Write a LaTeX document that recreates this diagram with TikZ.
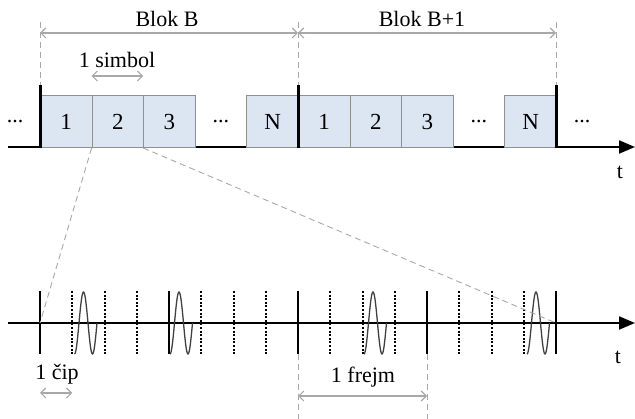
\documentclass[tikz,border=0pt]{standalone}
\usepackage{fontspec}
\setmainfont{Liberation Serif}
\usetikzlibrary{arrows.meta}
\definecolor{boxfill}{HTML}{DCE6F2}
\definecolor{boxline}{HTML}{909090}
\definecolor{dimgray}{HTML}{A8A8A8}
\definecolor{wavegray}{HTML}{404040}

\begin{document}
\begin{tikzpicture}[x=1pt,y=-1pt,
  lbl/.style={font=\fontsize{22}{22}\selectfont, inner sep=0pt},
  slot/.style={draw=boxline, fill=boxfill, line width=0.8pt,
    minimum width=51.6pt, minimum height=52pt, inner sep=0pt,
    anchor=south west, font=\fontsize{23}{23}\selectfont},
  gap/.style={minimum width=51.6pt, minimum height=52pt, inner sep=0pt,
    anchor=south west, font=\fontsize{22}{22}\selectfont},
  timeaxis/.style={line width=2pt, -{Triangle[length=16pt,width=13pt]}},
  blockbar/.style={line width=3pt},
  framebar/.style={line width=1.6pt},
  chipbar/.style={line width=2pt, dash pattern=on 2pt off 1.6pt},
  dim/.style={draw=dimgray, line width=1.1pt,
    {Straight Barb[length=5pt,width=10pt]}-{Straight Barb[length=5pt,width=10pt]}},
  guide/.style={draw=dimgray, line width=0.9pt, dash pattern=on 6pt off 4pt},
  pulse/.style={draw=wavegray, line width=1.3pt}]
\useasboundingbox (0,0) rectangle (635,419);

% ---------------- symbol level ----------------
\coordinate (ta0) at (8,147);
\coordinate (ta1) at (635,147);
\draw[timeaxis] (ta0) -- (ta1);
\node[lbl] (tt) at (620,172) {t};

% block B
\node[slot] (s1) at (40,148) {1};
\node[slot] (s2) at (91.6,148) {2};
\node[slot] (s3) at (143.2,148) {3};
\node[gap]  (sd) at (194.8,148) {...};
\node[slot] (sN) at (246.4,148) {N};
% block B+1
\node[slot] (u1) at (298,148) {1};
\node[slot] (u2) at (349.6,148) {2};
\node[slot] (u3) at (401.2,148) {3};
\node[gap]  (ud) at (452.8,148) {...};
\node[slot] (uN) at (504.4,148) {N};

\node[lbl] (dl) at (15,122) {...};
\node[lbl] (dr) at (582,122) {...};

% block boundaries
\foreach \x/\n in {40/A,298/B,556/C}{
  \coordinate (bt\n) at (\x,85);
  \coordinate (bb\n) at (\x,148);
  \coordinate (bg\n) at (\x,22);
  \draw[blockbar] (bt\n) -- (bb\n);
  \draw[guide] (bg\n) -- (bt\n);
}

% block dimensions
\coordinate (mA) at (40,33);
\coordinate (mB) at (298,33);
\coordinate (mC) at (556,33);
\draw[dim] (mA) -- (mB);
\draw[dim] (mB) -- (mC);
\node[lbl] (lb) at (167,19) {Blok B};
\node[lbl] (lb1) at (422,19) {Blok B+1};

% symbol duration
\coordinate (sy0) at (91.6,76);
\coordinate (sy1) at (143.2,76);
\draw[dim] (sy0) -- (sy1);
\node[lbl] (lsym) at (117,60) {1 simbol};

% ---------------- chip level ----------------
\coordinate (ca0) at (8,323);
\coordinate (ca1) at (635,323);
\draw[timeaxis] (ca0) -- (ca1);
\node[lbl] (tb) at (618,357) {t};

% frame boundaries (every 4 chips) and chip boundaries
\foreach \i in {0,...,16}{
  \pgfmathsetmacro{\cx}{40+32.25*\i}
  \pgfmathtruncatemacro{\fr}{mod(\i,4)}
  \coordinate (ct\i) at (\cx,291);
  \coordinate (cb\i) at (\cx,354);
  \coordinate (cm\i) at (\cx,323);
  \ifnum\fr=0
    \draw[framebar] (ct\i) -- (cb\i);
  \else
    \draw[chipbar] (ct\i) -- (cb\i);
  \fi
}

% one pulse per frame
\foreach \p in {74.5,170,364,527}{
  \draw[pulse] plot[domain=0:450, samples=60, smooth]
    ({\p + 9*\x/180}, {323 + 31*cos(\x)});
}

% zoom from the second symbol to the chip axis
\draw[guide] (s2.south west) -- (cm0);
\draw[guide] (s3.south west) -- (cm16);

% chip and frame durations
\coordinate (cp0) at (40,393);
\coordinate (cp1) at (72.25,393);
\draw[dim] (cp0) -- (cp1);
\node[lbl] (lchip) at (57,374) {1 čip};

\coordinate (fg0) at (298,354);
\coordinate (fg1) at (427,354);
\coordinate (fe0) at (298,419);
\coordinate (fe1) at (427,419);
\draw[guide] (fg0) -- (fe0);
\draw[guide] (fg1) -- (fe1);
\coordinate (fr0) at (298,396);
\coordinate (fr1) at (427,396);
\draw[dim] (fr0) -- (fr1);
\node[lbl] (lframe) at (363,377) {1 frejm};
\end{tikzpicture}
\end{document}
